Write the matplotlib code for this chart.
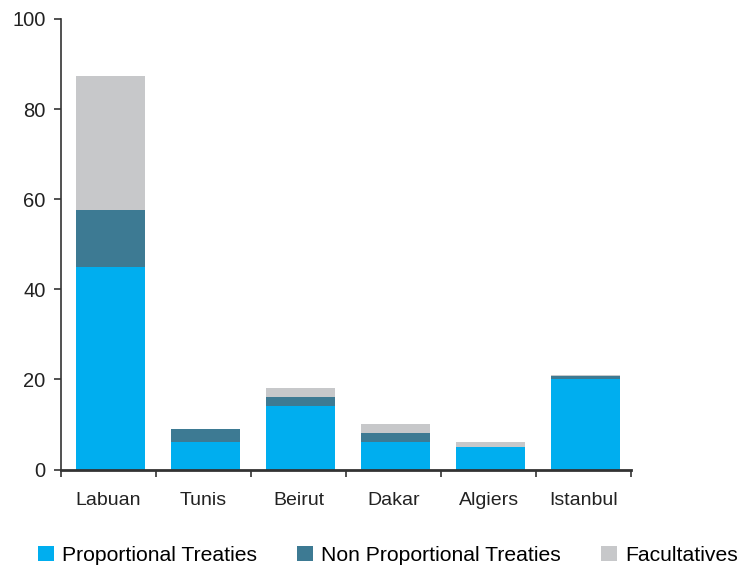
import matplotlib
matplotlib.use("Agg")
import matplotlib.pyplot as plt
import numpy as np

plt.rcParams["font.family"] = ["Liberation Sans", "DejaVu Sans"]

cities = ["Labuan", "Tunis", "Beirut", "Dakar", "Algiers", "Istanbul"]
proportional = [45, 6, 14, 6, 5, 20]
non_proportional = [12.6, 3, 2, 2, 0, 0.7]
facultatives = [29.8, 0, 2, 2, 1, 0.3]

BLUE = "#00AEEF"
TEAL = "#3D7A93"
GREY = "#C7C8CA"
AXIS = "#333333"

fig = plt.figure(figsize=(7.39, 5.70), dpi=100)
ax = fig.add_axes([0.0825, 0.1763, 0.7715, 0.7904])

x = np.arange(len(cities))
p = np.array(proportional)
npt = np.array(non_proportional)
f = np.array(facultatives)

w = 0.72
xb = x + 0.02
ax.bar(xb, p, w, color=BLUE, label="Proportional Treaties")
ax.bar(xb, npt, w, bottom=p, color=TEAL, label="Non Proportional Treaties")
ax.bar(xb, f, w, bottom=p + npt, color=GREY, label="Facultatives")

ax.set_xlim(-0.5, len(cities) - 0.5)
ax.set_ylim(0, 100)
ax.set_yticks([0, 20, 40, 60, 80, 100])

# category labels centred, ticks on the boundaries between them
ax.set_xticks(x)
ax.set_xticklabels(cities)
ax.set_xticks(np.arange(len(cities) + 1) - 0.5, minor=True)
ax.tick_params(axis="x", which="major", length=0, pad=16, labelsize=14, colors="#222222")
ax.tick_params(axis="x", which="minor", length=5, width=1.2, color=AXIS)
ax.tick_params(axis="y", length=5, width=1.2, color=AXIS, labelsize=14.5, labelcolor="#222222", pad=6)

for side in ["top", "right"]:
    ax.spines[side].set_visible(False)
ax.spines["left"].set_color(AXIS)
ax.spines["left"].set_linewidth(1.2)
ax.spines["bottom"].set_color(AXIS)
ax.spines["bottom"].set_linewidth(2)

fig.legend(loc="center", bbox_to_anchor=(0.525, 0.026), ncol=3, frameon=False,
           fontsize=15.2, handlelength=0.75, handleheight=0.75, handletextpad=0.4,
           columnspacing=1.9, borderpad=0, borderaxespad=0)

fig.savefig("out.png", dpi=100)
